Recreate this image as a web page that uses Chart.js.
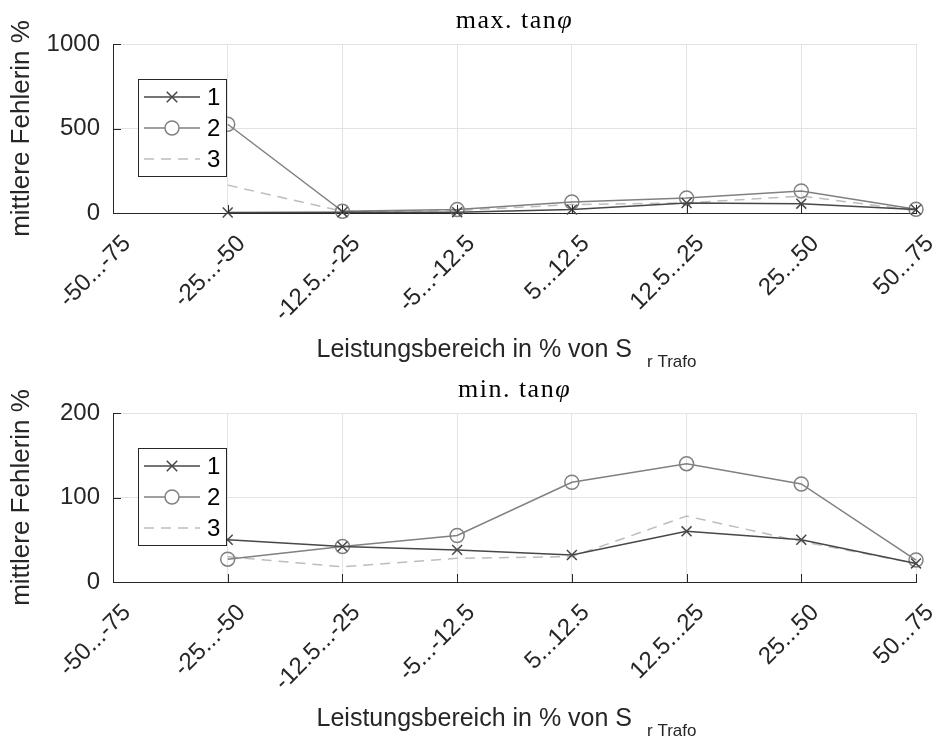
<!DOCTYPE html>
<html>
<head>
<meta charset="utf-8">
<script src="https://cdn.jsdelivr.net/npm/chart.js@4.4.0/dist/chart.umd.min.js"></script>
<style>
  body { margin: 0; background: #fff; }
  canvas { display: block; }
</style>
</head>
<body>
<canvas id="chartMax" width="933" height="369"></canvas>
<canvas id="chartMin" width="933" height="369"></canvas>
<script>
// x categories (power ranges)
const categories = ['-50...-75', '-25...-50', '-12.5...-25', '-5...-12.5', '5...12.5', '12.5...25', '25...50', '50...75'];

// max. tan phi
const maxSeries1 = [null, 3, 5, 5, 20, 59, 55, 20];
const maxSeries2 = [null, 525, 10, 20, 65, 89, 130, 22];
const maxSeries3 = [null, 165, 10, 15, 50, 60, 100, 15];
const maxTicks = [0, 500, 1000];

// min. tan phi
const minSeries1 = [null, 50, 42, 38, 32, 60, 50, 22];
const minSeries2 = [null, 27, 42, 55, 118, 140, 116, 26];
const minSeries3 = [null, 30, 18, 28, 30, 78, 48, 22];
const minTicks = [0, 100, 200];

const seriesNames = ['1', '2', '3'];

const AXIS = '#262626';
const SANS = '"Liberation Sans", Arial, sans-serif';

// draws the matlab-ish extras: inner ticks, rotated labels, title, x label, legend box
const matlabLook = {
  id: 'matlabLook',
  afterDraw(chart, args, opts) {
    const ctx = chart.ctx;
    const a = chart.chartArea;
    const x = chart.scales.x, y = chart.scales.y;
    ctx.save();

    // tick marks point inwards
    ctx.strokeStyle = AXIS;
    ctx.lineWidth = 1;
    categories.forEach((c, i) => {
      const px = Math.round(x.getPixelForValue(i)) + 0.5;
      ctx.beginPath(); ctx.moveTo(px, a.bottom); ctx.lineTo(px, a.bottom - 8); ctx.stroke();
    });
    y.ticks.forEach(t => {
      const py = Math.round(y.getPixelForValue(t.value)) + 0.5;
      ctx.beginPath(); ctx.moveTo(a.left, py); ctx.lineTo(a.left + 8, py); ctx.stroke();
    });

    // rotated category labels
    ctx.font = '24px ' + SANS;
    ctx.fillStyle = AXIS;
    ctx.textAlign = 'right';
    ctx.textBaseline = 'middle';
    categories.forEach((c, i) => {
      const px = x.getPixelForValue(i);
      ctx.save();
      ctx.translate(px + 14, a.bottom + 27);
      ctx.rotate(-Math.PI / 4);
      ctx.fillText(c, 0, 0);
      ctx.restore();
    });

    // title, latex style
    ctx.textAlign = 'left';
    ctx.textBaseline = 'alphabetic';
    ctx.fillStyle = '#000';
    ctx.letterSpacing = '1.5px';
    ctx.font = '26px "Liberation Serif", serif';
    const t1 = opts.title;
    const w1 = ctx.measureText(t1).width;
    ctx.font = 'italic 26px "Liberation Serif", serif';
    const w2 = ctx.measureText('\u03C6').width;
    let tx = (a.left + a.right) / 2 - (w1 + w2) / 2;
    ctx.font = '26px "Liberation Serif", serif';
    ctx.fillText(t1, tx, 28);
    ctx.font = 'italic 26px "Liberation Serif", serif';
    ctx.fillText('\u03C6', tx + w1, 28);
    ctx.letterSpacing = '0px';

    // x axis label with subscript
    ctx.fillStyle = AXIS;
    const main = 'Leistungsbereich in % von S';
    const sub = 'r Trafo';
    ctx.font = '25px ' + SANS;
    const mw = ctx.measureText(main).width;
    ctx.font = '17px ' + SANS;
    const sw = ctx.measureText(sub).width;
    const gap = 15;
    let lx = (a.left + a.right) / 2 - 8 - (mw + gap + sw) / 2;
    ctx.font = '25px ' + SANS;
    ctx.fillText(main, lx, 357);
    ctx.font = '17px ' + SANS;
    ctx.fillText(sub, lx + mw + gap, 367);

    // legend box
    const box = { left: 138, top: 79, w: 88, h: 97 };
    ctx.fillStyle = '#fff';
    ctx.fillRect(box.left, box.top, box.w, box.h);
    ctx.strokeStyle = AXIS;
    ctx.lineWidth = 1;
    ctx.strokeRect(box.left + 0.5, box.top + 0.5, box.w, box.h);
    chart.data.datasets.forEach((ds, i) => {
      const ry = box.top + 18 + i * 31;
      ctx.strokeStyle = ds.borderColor;
      ctx.lineWidth = ds.borderWidth;
      ctx.setLineDash(ds.borderDash || []);
      ctx.beginPath(); ctx.moveTo(box.left + 6, ry); ctx.lineTo(box.left + 62, ry); ctx.stroke();
      ctx.setLineDash([]);
      const mx = box.left + 34;
      if (ds.pointStyle === 'circle' && ds.pointRadius > 0) {
        ctx.fillStyle = '#fff';
        ctx.beginPath(); ctx.arc(mx, ry, ds.pointRadius, 0, Math.PI * 2); ctx.fill(); ctx.stroke();
      } else if (ds.pointStyle === 'crossRot' && ds.pointRadius > 0) {
        const r = ds.pointRadius * 0.75;
        ctx.beginPath();
        ctx.moveTo(mx - r, ry - r); ctx.lineTo(mx + r, ry + r);
        ctx.moveTo(mx - r, ry + r); ctx.lineTo(mx + r, ry - r);
        ctx.stroke();
      }
      ctx.fillStyle = '#000';
      ctx.font = '24px ' + SANS;
      ctx.textBaseline = 'middle';
      ctx.fillText(ds.label, box.left + 69, ry + 1);
      ctx.textBaseline = 'alphabetic';
    });

    ctx.restore();
  }
};

function makeChart(id, title, s1, s2, s3, yTicks) {
  const yMax = yTicks[yTicks.length - 1];
  return new Chart(document.getElementById(id), {
    type: 'line',
    data: {
      labels: categories,
      datasets: [
        { label: seriesNames[0], data: s1, borderColor: '#474747', borderWidth: 1.5,
          pointStyle: 'crossRot', pointRadius: 7, pointBorderWidth: 1.5, pointBorderColor: '#474747',
          backgroundColor: 'transparent', tension: 0, clip: false },
        { label: seriesNames[1], data: s2, borderColor: '#808080', borderWidth: 1.5,
          pointStyle: 'circle', pointRadius: 7, pointBorderWidth: 1.5, pointBorderColor: '#808080',
          pointBackgroundColor: 'transparent', backgroundColor: 'transparent', tension: 0, clip: false },
        { label: seriesNames[2], data: s3, borderColor: '#bdbdbd', borderWidth: 1.5, borderDash: [10, 7],
          pointRadius: 0, backgroundColor: 'transparent', tension: 0, clip: false }
      ]
    },
    options: {
      responsive: false,
      animation: false,
      layout: { padding: { top: 44, right: 17, bottom: 0, left: 0 } },
      plugins: {
        legend: { display: false },
        tooltip: { enabled: false },
        matlabLook: { title: title }
      },
      scales: {
        x: {
          type: 'category',
          offset: false,
          grid: { color: '#e3e3e3', drawTicks: false },
          border: { display: true, color: AXIS, width: 1 },
          ticks: { display: false },
          afterFit: (s) => { s.height = 369 - 44 - 169; }
        },
        y: {
          min: 0,
          max: yMax,
          afterBuildTicks: (s) => { s.ticks = yTicks.map(v => ({ value: v })); },
          grid: { color: '#e3e3e3', drawTicks: false },
          border: { display: true, color: AXIS, width: 1 },
          ticks: { color: AXIS, padding: 13, font: { size: 24, family: SANS },
                   callback: (v) => String(v) },
          title: { display: true, text: 'mittlere Fehlerin %', color: AXIS,
                   font: { size: 26, family: SANS }, padding: { top: 6, bottom: 0 } },
          afterFit: (s) => { s.width = 113; }
        }
      }
    },
    plugins: [matlabLook]
  });
}

makeChart('chartMax', 'max. tan', maxSeries1, maxSeries2, maxSeries3, maxTicks);
makeChart('chartMin', 'min. tan', minSeries1, minSeries2, minSeries3, minTicks);
</script>
</body>
</html>
